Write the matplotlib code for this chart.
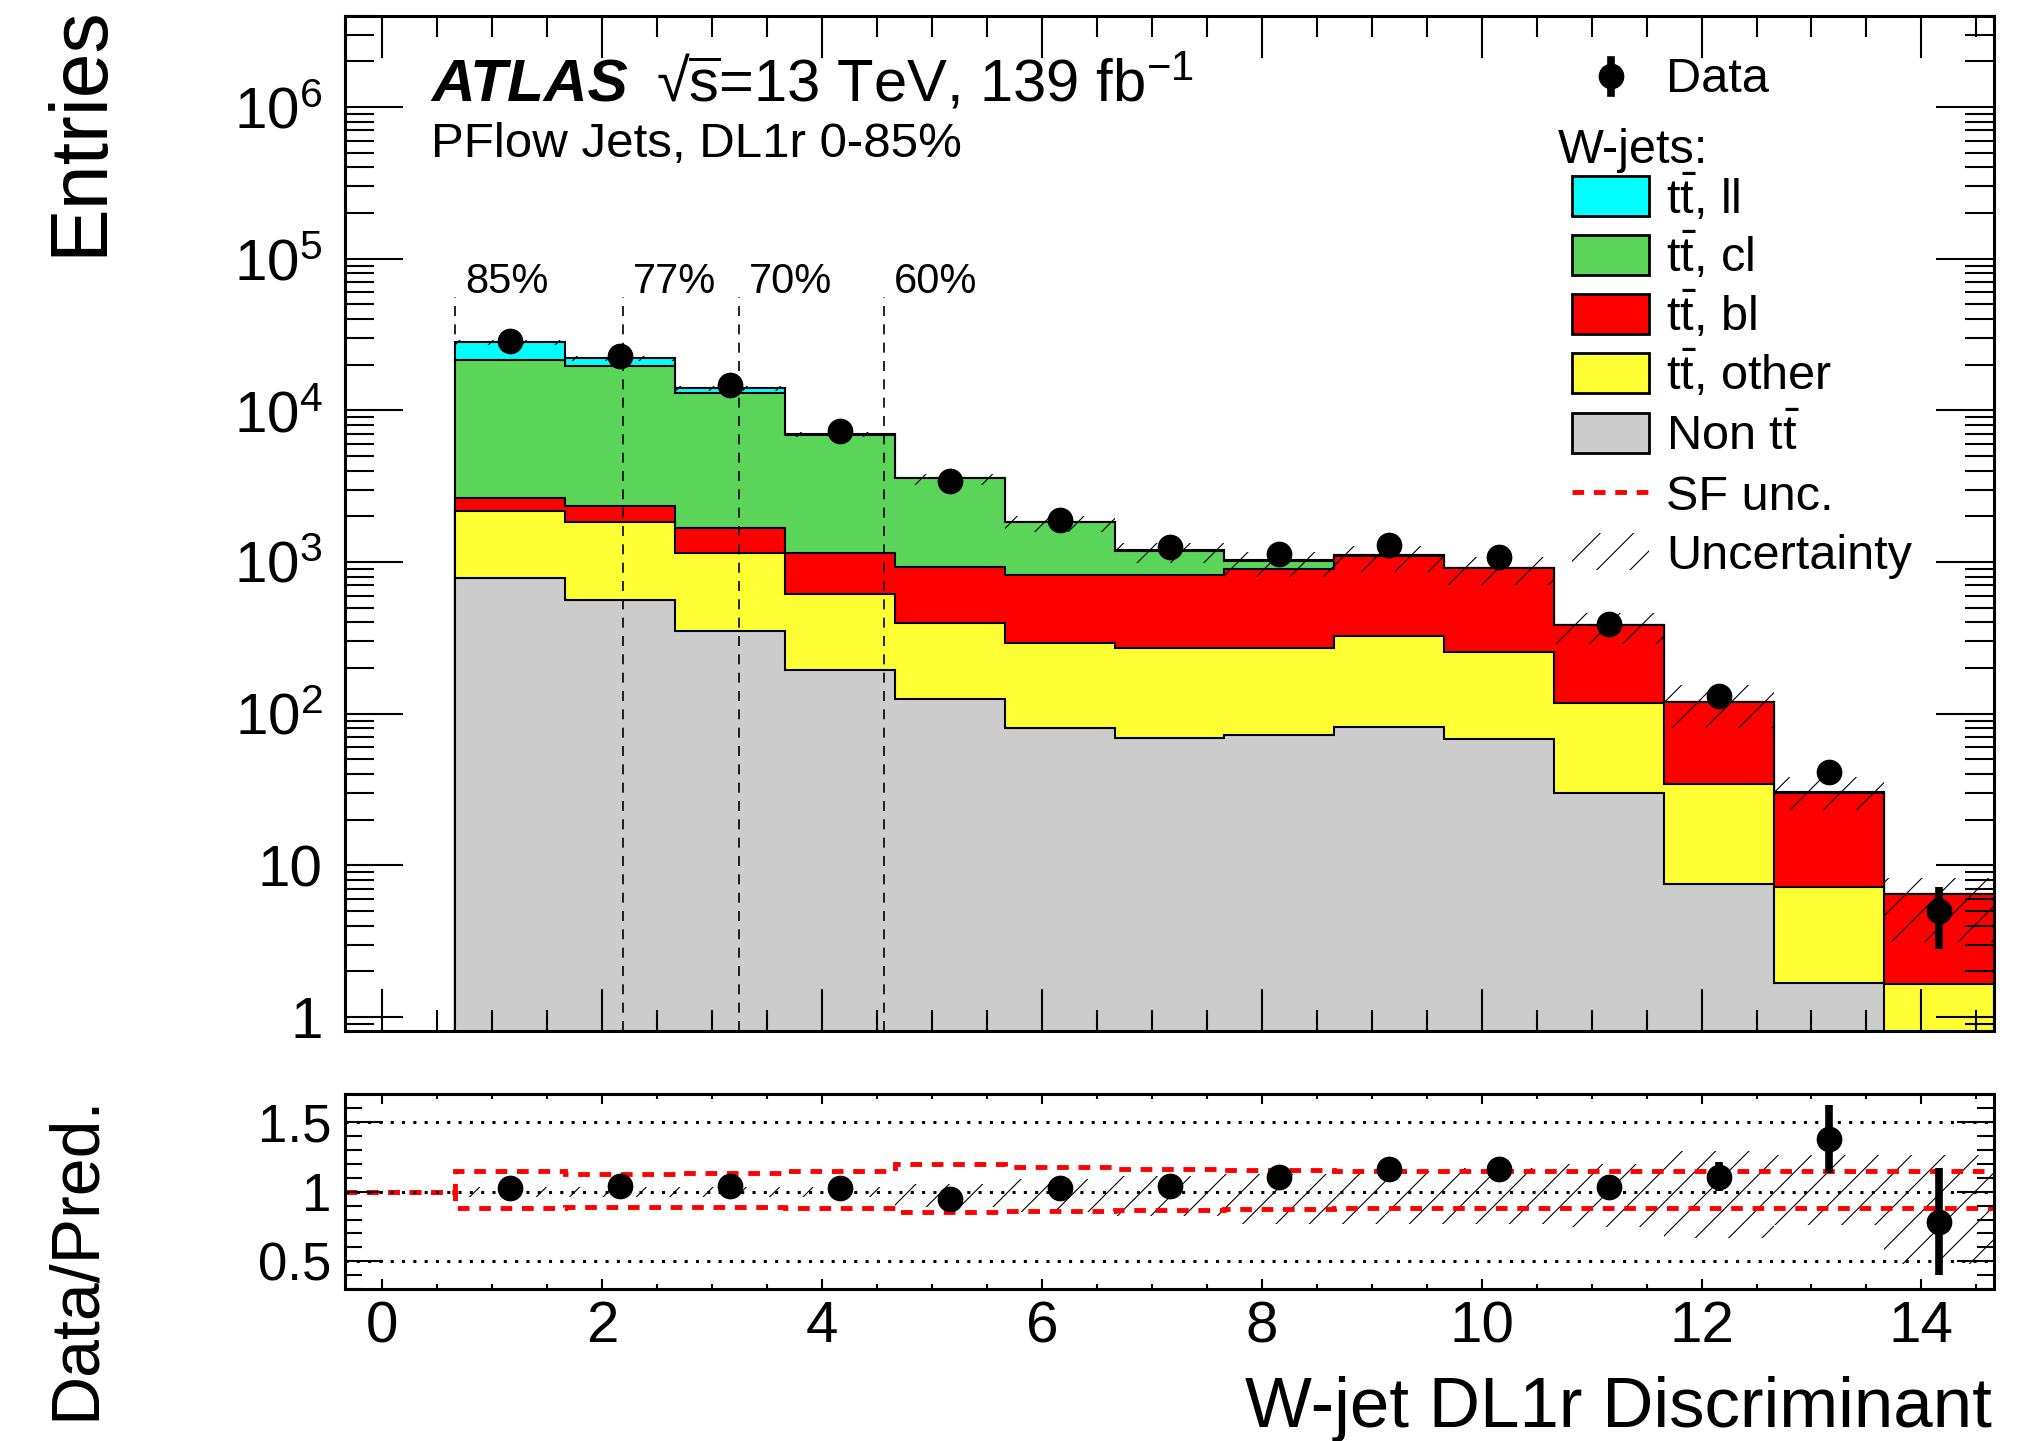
import numpy as np
import matplotlib.pyplot as plt
from matplotlib.patches import Rectangle
from matplotlib.ticker import MultipleLocator, LogLocator, FuncFormatter, NullFormatter

plt.rcParams['font.family'] = ['Liberation Sans', 'DejaVu Sans']
plt.rcParams['mathtext.fontset'] = 'custom'
plt.rcParams['mathtext.rm'] = 'Liberation Sans'
plt.rcParams['mathtext.it'] = 'Liberation Sans:italic'
plt.rcParams['mathtext.bf'] = 'Liberation Sans:bold'
plt.rcParams['hatch.linewidth'] = 0.8
plt.rcParams['hatch.color'] = 'black'

# ---- binning of the W-jet DL1r discriminant ----
edges = [0.66, 1.66, 2.66, 3.66, 4.66, 5.66, 6.66, 7.66, 8.66, 9.66, 10.66, 11.66, 12.66, 13.66, 14.66]

# ---- predicted W-jet composition (entries per bin) ----
non_tt   = [789, 565, 349, 193, 124.5, 80.5, 68.5, 72, 81.7, 67.5, 29.8, 7.5, 1.68, 0.6]
tt_other = [1381, 1271, 804, 419, 273.5, 209.5, 202.5, 199, 243.3, 187.5, 86.9, 26.9, 5.55, 1.04]
tt_bl    = [490, 494, 533, 541, 529, 536, 555, 624, 775, 658, 265, 84.6, 22.7, 4.79]
tt_cl    = [18940, 17170, 11314, 5727, 2643, 995, 360, 126, 5, 3, 1.5, 0.5, 0.2, 0.05]
tt_ll    = [6600, 2630, 1030, 70, 30, 15, 8, 5, 2, 2, 1, 0.3, 0.1, 0.02]

# ---- data ----
data     = [28660, 22800, 14620, 7280, 3420, 1880, 1256, 1135, 1300, 1070, 387, 131, 41, 5]
data_err = [169, 151, 121, 85, 58, 43, 35, 34, 36, 33, 20, 11, 6.4, 2.2]

# ---- ratio panel ----
ratio     = [1.024, 1.041, 1.041, 1.024, 0.945, 1.029, 1.041, 1.108, 1.16, 1.161, 1.031, 1.108, 1.377, 0.784]
ratio_err = [0.006, 0.007, 0.009, 0.012, 0.017, 0.024, 0.03, 0.031, 0.033, 0.036, 0.053, 0.105, 0.246, 0.385]
unc_up    = [0.035, 0.035, 0.035, 0.035, 0.055, 0.09, 0.11, 0.13, 0.15, 0.17, 0.2, 0.29, 0.26, 0.26]
unc_dn    = [0.04, 0.04, 0.04, 0.04, 0.11, 0.145, 0.175, 0.23, 0.23, 0.23, 0.25, 0.33, 0.24, 0.52]
sf_edges  = [-0.34] + edges
sf_up     = [1.0, 1.147, 1.13, 1.132, 1.149, 1.197, 1.18, 1.163, 1.154, 1.147, 1.147, 1.147, 1.147, 1.147, 1.147]
sf_dn     = [1.0, 0.885, 0.892, 0.89, 0.885, 0.851, 0.861, 0.87, 0.877, 0.882, 0.882, 0.882, 0.882, 0.882, 0.882]

# ---- b-tagging working point cuts ----
wp_cuts   = [0.66, 2.19, 3.24, 4.56]
wp_labels = ['85%', '77%', '70%', '60%']

stack_names  = ['Non $\\mathrm{t\\bar{t}}$', '$\\mathrm{t\\bar{t}}$, other', '$\\mathrm{t\\bar{t}}$, bl',
                '$\\mathrm{t\\bar{t}}$, cl', '$\\mathrm{t\\bar{t}}$, ll']
stack_colors = ['#cccccc', '#ffff33', '#ff0000', '#5ad55a', '#00ffff']

W, H = 2038, 1441


def fxy(x, y):
    # pixel position -> figure fraction
    return x / W, 1 - y / H


edges = np.array(edges)
centers = 0.5 * (edges[:-1] + edges[1:])
cum = np.cumsum([non_tt, tt_other, tt_bl, tt_cl, tt_ll], axis=0)
total = cum[-1]

fig = plt.figure(figsize=(W / 100, H / 100), dpi=100)
ax = fig.add_axes([0.1693, 0.2847, 0.8091, 0.7044])
rax = fig.add_axes([0.1693, 0.1053, 0.8091, 0.1355])

# stacked histograms, largest sum first like THStack
for top, col in reversed(list(zip(cum, stack_colors))):
    ax.stairs(top, edges, baseline=1e-3, fill=True, color=col, lw=0)
    ax.stairs(top, edges, baseline=1e-3, color='black', lw=1.5)

ax.stairs(total * (1 + np.array(unc_up)), edges, baseline=total * (1 - np.array(unc_dn)),
          fill=True, facecolor='none', edgecolor='black', hatch='/', lw=0)

ymin, ymax = 0.81, 4e6
ax.vlines(wp_cuts, ymin, 5.6e4, colors='black', linestyles=(0, (6, 5)), lw=1.2)
for x, lab in zip(wp_cuts, wp_labels):
    ax.text(x + 0.09, 5.9e4, lab, fontsize=30, va='baseline')

ax.errorbar(centers, data, yerr=data_err, fmt='o', color='black', ms=17.5,
            elinewidth=5.5, capsize=0, zorder=5)

ax.set_yscale('log')
ax.set_xlim(-0.34, 14.66)
ax.set_ylim(ymin, ymax)
ax.xaxis.set_major_locator(MultipleLocator(2))
ax.xaxis.set_minor_locator(MultipleLocator(0.5))
ax.yaxis.set_major_locator(LogLocator(base=10, numticks=20))
ax.yaxis.set_minor_locator(LogLocator(base=10, subs=np.arange(2, 10), numticks=20))
ax.yaxis.set_minor_formatter(NullFormatter())


def log_label(v, pos):
    e = int(round(np.log10(v)))
    if e == 0:
        return '1'
    if e == 1:
        return '10'
    return '$\\mathregular{10^{%d}}$' % e


ax.yaxis.set_major_formatter(FuncFormatter(log_label))
ax.tick_params(which='both', direction='in', top=True, right=True, labelbottom=False, width=1.5)
ax.tick_params(axis='y', which='major', length=42, labelsize=42, pad=16)
ax.tick_params(axis='y', which='minor', length=21)
ax.tick_params(axis='x', which='major', length=30)
ax.tick_params(axis='x', which='minor', length=15)
for s in ax.spines.values():
    s.set_linewidth(2.2)

# ratio panel
rax.stairs(1 + np.array(unc_up), edges, baseline=1 - np.array(unc_dn),
           fill=True, facecolor='none', edgecolor='black', hatch='/', lw=0)
for v in [0.5, 1.0, 1.5]:
    rax.axhline(v, color='black', lw=2.2, ls=(0, (1, 2.7)))
rax.stairs(sf_up, sf_edges, baseline=None, color='red', lw=3.5, ls=(0, (2.4, 2)))
rax.stairs(sf_dn, sf_edges, baseline=None, color='red', lw=3.5, ls=(0, (2.4, 2)))
rax.errorbar(centers, ratio, yerr=ratio_err, fmt='o', color='black', ms=17.5,
             elinewidth=5.5, capsize=0, zorder=5)

rax.set_xlim(-0.34, 14.66)
rax.set_ylim(0.3, 1.7)
rax.xaxis.set_major_locator(MultipleLocator(2))
rax.xaxis.set_minor_locator(MultipleLocator(0.5))
rax.yaxis.set_major_locator(MultipleLocator(0.5))
rax.yaxis.set_minor_locator(MultipleLocator(0.1))
rax.xaxis.set_major_formatter(FuncFormatter(lambda v, p: '%g' % v))
rax.yaxis.set_major_formatter(FuncFormatter(lambda v, p: '%g' % v))
rax.tick_params(which='both', direction='in', top=True, right=True, width=1.5)
rax.tick_params(axis='y', which='major', length=27, labelsize=38, pad=9.5)
rax.tick_params(axis='y', which='minor', length=12)
rax.tick_params(axis='x', which='major', length=7, labelsize=42, pad=8)
rax.tick_params(axis='x', which='minor', length=3.6)
for s in rax.spines.values():
    s.set_linewidth(2.2)

# axis titles
fig.text(*fxy(1992, 1427), 'W-jet DL1r Discriminant', fontsize=51, ha='right', va='baseline')
fig.text(*fxy(101, 5), 'Entries', fontsize=58, rotation=90, rotation_mode='anchor',
         ha='right', va='baseline')
fig.text(*fxy(94, 1094), 'Data/Pred.', fontsize=49, rotation=90, rotation_mode='anchor',
         ha='right', va='baseline')

# labels
fig.text(*fxy(431, 102), 'ATLAS', fontsize=43.5, weight='bold', style='italic', va='baseline')
fig.text(*fxy(656, 102), '√$\\overline{\\mathrm{s}}$=13 TeV, 139 fb$^{\\mathrm{-1}}$', fontsize=43, va='baseline')
fig.text(*fxy(431, 157), 'PFlow Jets, DL1r 0-85%', fontsize=35.5, va='baseline')

# legend
lx0, lx1, text_x = 1572, 1649, 1666
ax.plot(*fxy(1610.5, 76), 'o', color='black', ms=17.5, transform=fig.transFigure, clip_on=False)
ax.plot([fxy(1610.5, 60)[0]] * 2, [fxy(0, 60)[1], fxy(0, 93)[1]], color='black', lw=5.5,
        transform=fig.transFigure, clip_on=False)
fig.text(*fxy(text_x, 92), 'Data', fontsize=35, va='baseline')
fig.text(*fxy(1558, 163), 'W-jets:', fontsize=35, va='baseline')

row_y = [196, 255, 313.5, 373, 432.5]
for yc, name, col in zip(row_y, reversed(stack_names), reversed(stack_colors)):
    x0, y0 = fxy(lx0, yc + 20)
    fig.patches.append(Rectangle((x0, y0), (lx1 - lx0) / W, 40 / H, facecolor=col,
                                 edgecolor='black', lw=2, transform=fig.transFigure))
    fig.text(*fxy(text_x, yc + 17.5), name, fontsize=35, va='baseline')

ax.plot([fxy(lx0, 0)[0], fxy(lx1, 0)[0]], [fxy(0, 492)[1]] * 2, color='red', lw=3.5,
        ls=(0, (2.4, 2)), transform=fig.transFigure, clip_on=False)
fig.text(*fxy(text_x, 509.5), 'SF unc.', fontsize=35, va='baseline')

x0, y0 = fxy(lx0, 570)
fig.patches.append(Rectangle((x0, y0), (lx1 - lx0) / W, 37 / H, fill=False, hatch='/',
                             edgecolor='black', lw=0, transform=fig.transFigure))
fig.text(*fxy(text_x, 569), 'Uncertainty', fontsize=35, va='baseline')

fig.savefig('out.png', dpi=100)
